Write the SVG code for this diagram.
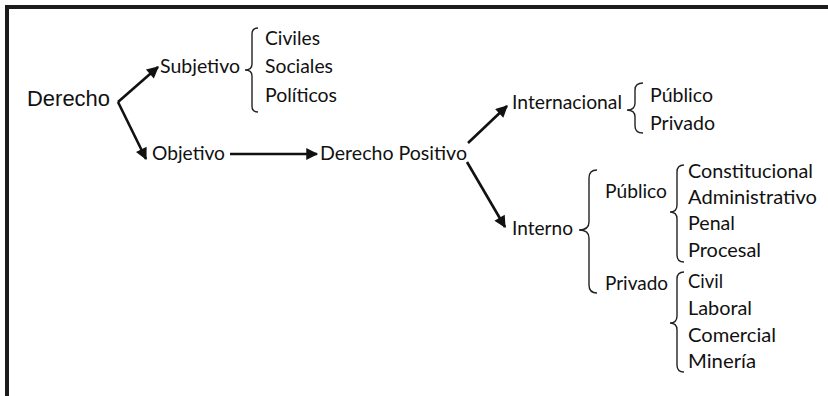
<svg xmlns="http://www.w3.org/2000/svg" width="828" height="396" viewBox="0 0 828 396">
<style>
.t{font-family:Lato,"Open Sans",sans-serif;font-size:20px;fill:#111}
.d{font-family:"Liberation Sans",Arial,sans-serif;font-size:22px;fill:#111}
.b{fill:none;stroke:#222;stroke-width:1.4}
.a{fill:none;stroke:#111;stroke-width:2.6;stroke-linejoin:miter}
.f{fill:none;stroke:#1c1c1c;stroke-width:4}
</style>
<defs>
<marker id="ah" viewBox="0 0 10 10" refX="9" refY="5" markerWidth="5.5" markerHeight="4.6" orient="auto" markerUnits="strokeWidth">
<path d="M0,0 L10,5 L0,10 z" fill="#111"/>
</marker>
</defs>
<rect width="828" height="396" fill="#fff"/>
<g id="frame">
<line class="f" x1="5" y1="7" x2="828" y2="7"/>
<line class="f" x1="7" y1="5" x2="7" y2="396"/>
</g>
<g id="connectors">
<path class="a" d="M118,102 L158,67" marker-end="url(#ah)"/>
<path class="a" d="M118,102 L146,159" marker-end="url(#ah)"/>
<line class="a" x1="230" y1="154" x2="317" y2="154" marker-end="url(#ah)"/>
<line class="a" x1="468" y1="143" x2="507" y2="106" marker-end="url(#ah)"/>
<line class="a" x1="467" y1="162" x2="505" y2="227" marker-end="url(#ah)"/>
</g>
<g id="n-derecho"><text class="d" x="27" y="106" textLength="83" lengthAdjust="spacingAndGlyphs">Derecho</text></g>
<g id="n-subjetivo">
<text class="t" x="160" y="73" textLength="80" lengthAdjust="spacingAndGlyphs">Subjetivo</text>
<path class="b" d="M258,28 Q252,28 252,34 L252,64 Q252,70 245,70 Q252,70 252,76 L252,106 Q252,112 258,112"/>
<text class="t" x="265" y="45" textLength="55" lengthAdjust="spacingAndGlyphs">Civiles</text>
<text class="t" x="265" y="73" textLength="68" lengthAdjust="spacingAndGlyphs">Sociales</text>
<text class="t" x="265" y="102" textLength="72" lengthAdjust="spacingAndGlyphs">Políticos</text>
</g>
<g id="n-objetivo"><text class="t" x="152" y="160" textLength="73" lengthAdjust="spacingAndGlyphs">Objetivo</text></g>
<g id="n-positivo"><text class="t" x="320" y="160" textLength="147" lengthAdjust="spacingAndGlyphs">Derecho Positivo</text></g>
<g id="n-internacional">
<text class="t" x="512" y="109" textLength="110" lengthAdjust="spacingAndGlyphs">Internacional</text>
<path class="b" d="M643,83 Q635,83 635,90 L635,103 Q635,110 627,110 Q635,110 635,117 L635,126 Q635,133 643,133"/>
<text class="t" x="650" y="102" textLength="63" lengthAdjust="spacingAndGlyphs">Público</text>
<text class="t" x="650" y="130" textLength="65" lengthAdjust="spacingAndGlyphs">Privado</text>
</g>
<g id="n-interno">
<text class="t" x="512" y="235" textLength="61" lengthAdjust="spacingAndGlyphs">Interno</text>
<path class="b" d="M597,170 Q589,170 589,178 L589,222 Q589,230 579,230 Q589,230 589,238 L589,285 Q589,293 597,293"/>
</g>
<g id="n-publico">
<text class="t" x="605" y="198" textLength="62" lengthAdjust="spacingAndGlyphs">Público</text>
<path class="b" d="M684,165 Q677,165 677,172 L677,205 Q677,212 670,212 Q677,212 677,219 L677,255 Q677,262 684,262"/>
<text class="t" x="688" y="178" textLength="125" lengthAdjust="spacingAndGlyphs">Constitucional</text>
<text class="t" x="688" y="204" textLength="129" lengthAdjust="spacingAndGlyphs">Administrativo</text>
<text class="t" x="688" y="230" textLength="47" lengthAdjust="spacingAndGlyphs">Penal</text>
<text class="t" x="688" y="257" textLength="73" lengthAdjust="spacingAndGlyphs">Procesal</text>
</g>
<g id="n-privado">
<text class="t" x="605" y="290" textLength="63" lengthAdjust="spacingAndGlyphs">Privado</text>
<path class="b" d="M684,272 Q677,272 677,279 L677,316 Q677,323 670,323 Q677,323 677,330 L677,365 Q677,372 684,372"/>
<text class="t" x="688" y="288" textLength="35" lengthAdjust="spacingAndGlyphs">Civil</text>
<text class="t" x="688" y="315" textLength="64" lengthAdjust="spacingAndGlyphs">Laboral</text>
<text class="t" x="688" y="342" textLength="88" lengthAdjust="spacingAndGlyphs">Comercial</text>
<text class="t" x="688" y="368" textLength="68" lengthAdjust="spacingAndGlyphs">Minería</text>
</g>
</svg>
